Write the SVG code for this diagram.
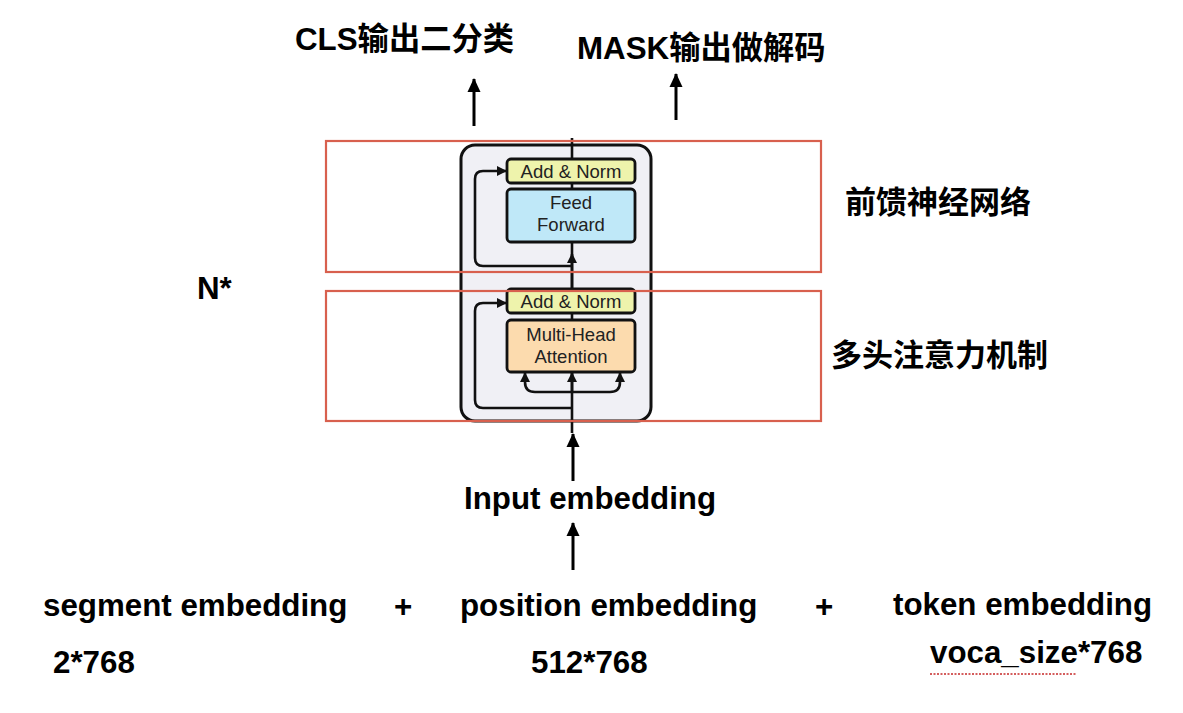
<svg xmlns="http://www.w3.org/2000/svg" width="1183" height="713" viewBox="0 0 1183 713">
<style>
.lbl{font-family:"Liberation Sans","Noto Sans CJK SC",sans-serif;font-weight:bold;font-size:31.3px;fill:#000}
.cjk{font-family:"Noto Sans CJK SC","Liberation Sans",sans-serif;font-weight:bold;font-size:31px;fill:#000}
.blk{font-family:"Liberation Sans","Noto Sans",sans-serif;font-size:18.5px;fill:#222;text-anchor:middle}
.box{stroke:#111;stroke-width:2.8}
.ln{fill:none;stroke:#111;stroke-width:2.6}
.big{fill:none;stroke:#000;stroke-width:3}
.red{fill:none;stroke:#d8604e;stroke-width:2.2}
</style>
<defs>
<marker id="ah" markerUnits="userSpaceOnUse" markerWidth="10" markerHeight="10" refX="9" refY="5" orient="auto">
<path d="M0,0 L10,5 L0,10 z" fill="#111"/>
</marker>
<marker id="ahb" markerUnits="userSpaceOnUse" markerWidth="14" markerHeight="14" refX="13" refY="7" orient="auto">
<path d="M0,0.5 L14,7 L0,13.5 z" fill="#000"/>
</marker>
</defs>
<rect width="1183" height="713" fill="#fff"/>

<g id="encoder">
<rect x="461" y="145" width="190" height="276" rx="14" fill="#f0f0f5" stroke="#111" stroke-width="3"/>
</g>

<g id="connectors">
<line class="ln" x1="572" y1="138" x2="572" y2="433"/>
<line class="ln" x1="572" y1="290" x2="572" y2="254" marker-end="url(#ah)"/>
<path class="ln" d="M572,266 H483 Q475,266 475,258 V179 Q475,171 483,171 H506" marker-end="url(#ah)"/>
<path class="ln" d="M572,408 H483 Q475,408 475,400 V311 Q475,303 483,303 H506" marker-end="url(#ah)"/>
<line class="ln" x1="572" y1="392" x2="572" y2="373" marker-end="url(#ah)"/>
<path class="ln" d="M572,392 H535 Q525,392 525,382 V373" marker-end="url(#ah)"/>
<path class="ln" d="M572,392 H610 Q620,392 620,382 V373" marker-end="url(#ah)"/>
<line class="big" x1="573" y1="481" x2="573" y2="434" marker-end="url(#ahb)"/>
<line class="big" x1="573" y1="570" x2="573" y2="523" marker-end="url(#ahb)"/>
<line class="big" x1="474" y1="126" x2="474" y2="79" marker-end="url(#ahb)"/>
<line class="big" x1="676" y1="120" x2="676" y2="74" marker-end="url(#ahb)"/>
</g>

<g id="add-norm-2">
<rect class="box" x="507" y="159" width="128" height="24" rx="4" fill="#eef3ac"/>
<text class="blk" x="571" y="177.5">Add &amp; Norm</text>
</g>
<g id="feed-forward">
<rect class="box" x="507" y="189" width="128" height="53" rx="4" fill="#bfe8f8"/>
<text class="blk" x="571" y="209">Feed</text>
<text class="blk" x="571" y="231">Forward</text>
</g>
<g id="add-norm-1">
<rect class="box" x="507" y="289" width="128" height="24" rx="4" fill="#eef3ac"/>
<text class="blk" x="571" y="307.5">Add &amp; Norm</text>
</g>
<g id="multi-head">
<rect class="box" x="507" y="320" width="128" height="52" rx="4" fill="#fcdbae"/>
<text class="blk" x="571" y="341">Multi-Head</text>
<text class="blk" x="571" y="363">Attention</text>
</g>

<g id="ffn-region">
<rect class="red" x="326" y="141" width="495" height="131"/>
<text class="cjk" x="845" y="213">前馈神经网络</text>
</g>
<g id="attn-region">
<rect class="red" x="326" y="291" width="495" height="130"/>
<text class="cjk" x="831" y="366">多头注意力机制</text>
</g>

<g id="labels">
<text class="lbl" x="295" y="50">CLS输出二分类</text>
<text class="lbl" x="577" y="59">MASK输出做解码</text>
<text class="lbl" x="197" y="299">N*</text>
<text class="lbl" x="464" y="509">Input embedding</text>
<text class="lbl" x="43" y="616">segment embedding</text>
<text class="lbl" x="394" y="617">+</text>
<text class="lbl" x="460" y="616">position embedding</text>
<text class="lbl" x="815" y="617">+</text>
<text class="lbl" x="893" y="615">token embedding</text>
<text class="lbl" x="53" y="673">2*768</text>
<text class="lbl" x="531" y="673">512*768</text>
<text class="lbl" x="930" y="663">voca_size*768</text>
<line x1="930" y1="674" x2="1077" y2="674" stroke="#c62828" stroke-width="1.3" stroke-dasharray="2,1.5"/>
</g>
</svg>
